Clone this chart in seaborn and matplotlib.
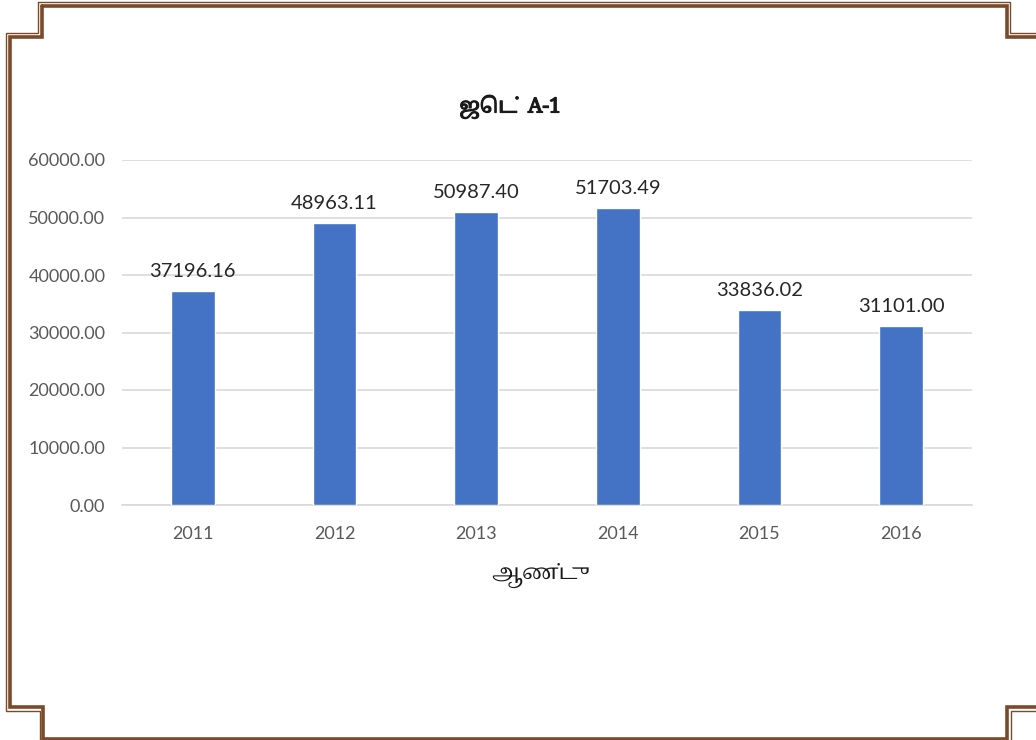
import numpy as np
import pandas as pd
import matplotlib
matplotlib.use("Agg")
import matplotlib.pyplot as plt
import matplotlib.patheffects as pe
import seaborn as sns


# ============================================================
# DATA
# ============================================================

years = ["2011", "2012", "2013", "2014", "2015", "2016"]
values = [37196.16, 48963.11, 50987.40, 51703.49, 33836.02, 31101.00]

TITLE = "ஜெட்  A-1"
XLABEL = "ஆண்டு"

BAR_COLOR = "#4472C4"
BORDER_COLOR = "#7B4A2A"

df = pd.DataFrame({"year": years, "value": values})


# ============================================================
# STYLE
# ============================================================

sns.set_theme(style="white")
plt.rcParams["font.family"] = ["Lato", "DejaVu Sans"]
tamil_fonts = ["Noto Serif Tamil", "Noto Sans Tamil", "Lohit Tamil",
               "Latha", "DejaVu Serif"]


# ============================================================
# FIGURE
# ============================================================

fig = plt.figure(figsize=(10.36, 7.4), dpi=100)

# page border (drawn in pixel coords on a full-figure axes)
deco = fig.add_axes([0, 0, 1, 1], zorder=0)
deco.set_xlim(0, 1036)
deco.set_ylim(740, 0)
deco.axis("off")

thick_path = [(42, 5.5), (1007, 5.5), (1007, 37), (1040, 37)]
thick_path2 = [(1040, 707), (1007, 707), (1007, 739), (43, 739),
               (43, 707), (9.5, 707), (9.5, 37), (42, 37), (42, 5.5)]
thin_path = [(38, 1.5), (1010, 1.5), (1010, 33), (1040, 33)]
thin_path2 = [(1040, 710.5), (1010.5, 710.5), (1010.5, 745), (39.5, 745),
              (39.5, 710.5), (6, 710.5), (6, 33), (38, 33), (38, 1.5)]
for p in (thick_path, thick_path2):
    xs, ys = zip(*p)
    deco.plot(xs, ys, color=BORDER_COLOR, lw=2.6, solid_joinstyle="miter")
for p in (thin_path, thin_path2):
    xs, ys = zip(*p)
    deco.plot(xs, ys, color=BORDER_COLOR, lw=1.0, solid_joinstyle="miter")

# main chart
ax = fig.add_axes([122 / 1036, 235 / 740, 850 / 1036, 345 / 740], zorder=1)
ax.patch.set_alpha(0)

sns.barplot(data=df, x="year", y="value", color=BAR_COLOR,
            saturation=1, width=0.31, ax=ax, zorder=3)

ax.set_xlim(-0.5, 5.5)
ax.set_ylim(0, 60000)
ax.set_yticks(np.arange(0, 60001, 10000))
ax.set_yticklabels([f"{v:.2f}" for v in np.arange(0, 60001, 10000)])
ax.yaxis.grid(True, color="#D9D9D9", lw=1.2, zorder=0)
ax.xaxis.grid(False)
for s in ["top", "right", "left"]:
    ax.spines[s].set_visible(False)
ax.spines["bottom"].set_color("#D9D9D9")
ax.spines["bottom"].set_linewidth(1.2)

ax.tick_params(axis="y", length=0, pad=12, labelsize=13, labelcolor="#595959")
ax.tick_params(axis="x", length=0, pad=15, labelsize=13, labelcolor="#595959")
ax.set_xlabel("")
ax.set_ylabel("")

for i, v in enumerate(values):
    ax.annotate(f"{v:.2f}", xy=(i, v), xytext=(0, 8), textcoords="offset points",
                ha="center", va="bottom", fontsize=14.5, color="#262626")

# title font has no bold face, so thicken it with a stroke
fig.text(510 / 1036, 1 - 107 / 740, TITLE, ha="center", va="center",
         fontsize=15, fontweight="bold", family=tamil_fonts, color="#1A1A1A",
         path_effects=[pe.withStroke(linewidth=0.9, foreground="#1A1A1A")])
fig.text(540 / 1036, 1 - 575 / 740, XLABEL, ha="center", va="center",
         fontsize=15, family=tamil_fonts, color="#1A1A1A")

fig.savefig("out.png", dpi=100)
